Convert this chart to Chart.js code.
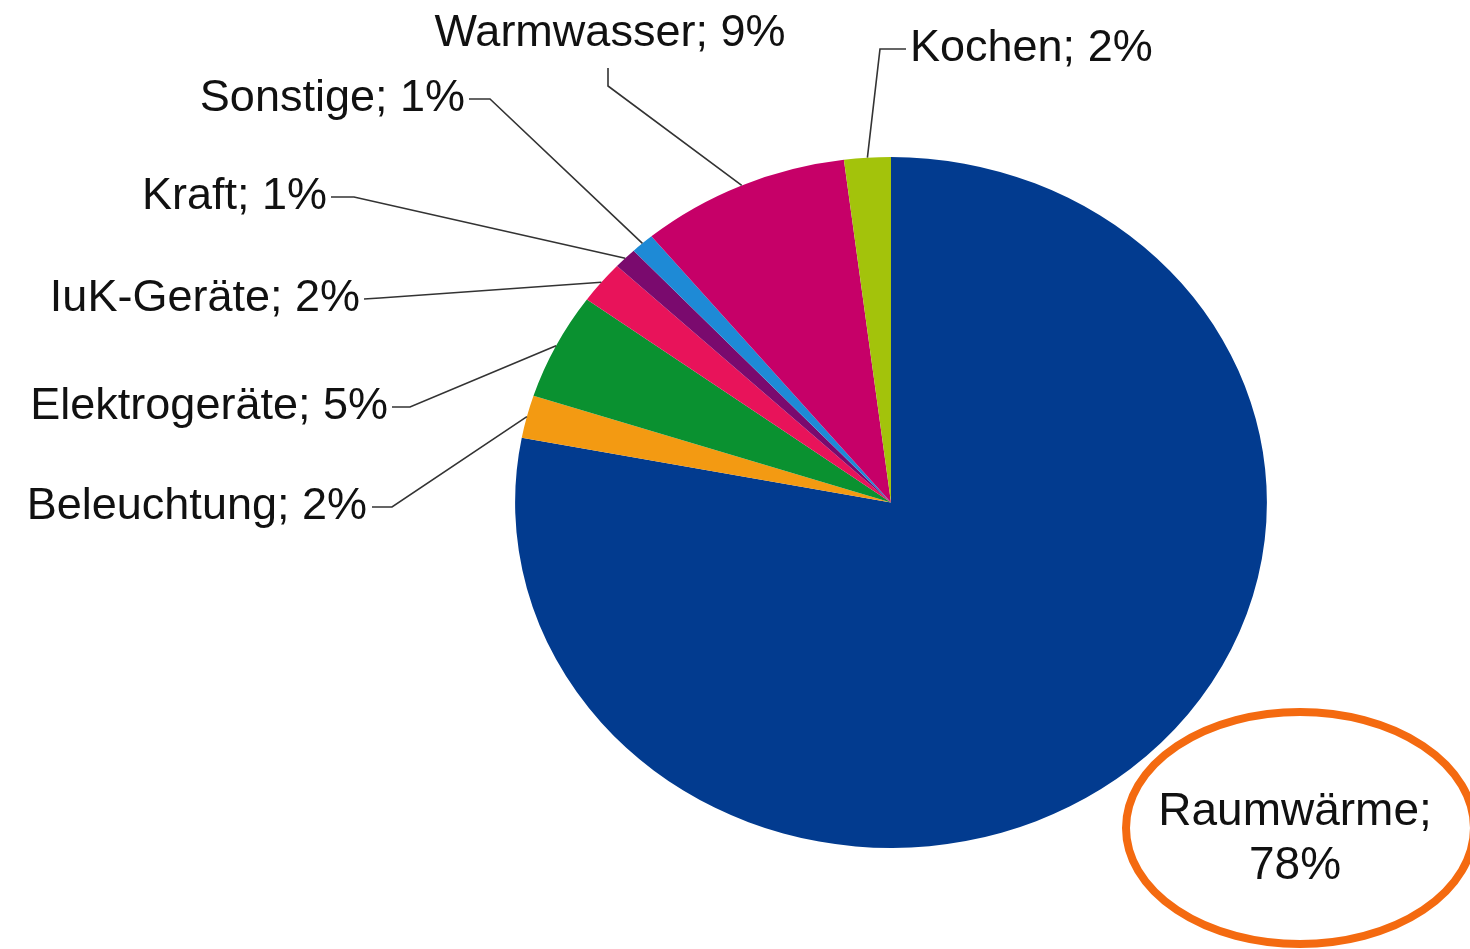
<!DOCTYPE html>
<html>
<head>
<meta charset="utf-8">
<script src="https://cdn.jsdelivr.net/npm/chart.js@4.4.0/dist/chart.umd.min.js"></script>
<style>
  html, body { margin: 0; padding: 0; background: #fff; }
  #wrap { width: 1470px; height: 949px; position: relative; }
</style>
</head>
<body>
<div id="wrap"><canvas id="pie"></canvas></div>
<script>
// data, clockwise from 12 o'clock
const categories = ['Raumwärme', 'Beleuchtung', 'Elektrogeräte', 'IuK-Geräte', 'Kraft', 'Sonstige', 'Warmwasser', 'Kochen'];
const shares = [78, 2, 5, 2, 1, 1, 9, 2];
const sliceColors = ['#023b8f', '#f39a12', '#0a9130', '#e8135a', '#7a0a6e', '#1e8ad6', '#c60068', '#a3c30b'];

// the original pie is a bit wider than tall
const stretchX = 1.088;

// where each label sits: text anchor + bend of the leader line
const labelLayout = [
  null,                                                            // Raumwärme: drawn in the ring
  { x: 367, y: 507, align: 'right', bend: [[372, 507], [392, 507]] },
  { x: 388, y: 407, align: 'right', bend: [[392, 407], [410, 407]] },
  { x: 360, y: 299, align: 'right', bend: [[364, 299], [380, 298]] },
  { x: 327, y: 197, align: 'right', bend: [[331, 197], [354, 197]] },
  { x: 465, y: 99,  align: 'right', bend: [[469, 99], [490, 99]] },
  { x: 610, y: 34,  align: 'center', bend: [[608, 68], [608, 86]] },
  { x: 910, y: 49,  align: 'left', bend: [[906, 49], [880, 49]] },
];

const stretchPlugin = {
  id: 'stretch',
  beforeDatasetsDraw(chart) {
    const arc = chart.getDatasetMeta(0).data[0];
    const ctx = chart.ctx;
    ctx.save();
    ctx.translate(arc.x, arc.y);
    ctx.scale(stretchX, 1);
    ctx.translate(-arc.x, -arc.y);
  },
  afterDatasetsDraw(chart) {
    chart.ctx.restore();
  }
};

const labelPlugin = {
  id: 'sliceLabels',
  afterDraw(chart) {
    const ctx = chart.ctx;
    const meta = chart.getDatasetMeta(0);
    ctx.save();
    ctx.font = '45px "Liberation Sans", Arial, sans-serif';
    ctx.fillStyle = '#111';
    ctx.textBaseline = 'middle';
    ctx.strokeStyle = '#333';
    ctx.lineWidth = 1.6;
    meta.data.forEach((arc, i) => {
      const lay = labelLayout[i];
      if (!lay) return;
      const mid = (arc.startAngle + arc.endAngle) / 2;
      const px = arc.x + Math.cos(mid) * arc.outerRadius * stretchX;
      const py = arc.y + Math.sin(mid) * arc.outerRadius;
      ctx.beginPath();
      ctx.moveTo(lay.bend[0][0], lay.bend[0][1]);
      ctx.lineTo(lay.bend[1][0], lay.bend[1][1]);
      ctx.lineTo(px, py);
      ctx.stroke();
      ctx.textAlign = lay.align;
      ctx.fillText(categories[i] + '; ' + shares[i] + '%', lay.x, lay.y);
    });

    // big slice label with the orange ring round it
    ctx.textAlign = 'center';
    ctx.font = '46px "Liberation Sans", Arial, sans-serif';
    ctx.fillText(categories[0] + ';', 1295, 812);
    ctx.fillText(shares[0] + '%', 1295, 866);
    ctx.beginPath();
    ctx.ellipse(1300, 828, 174, 116, 0, 0, Math.PI * 2);
    ctx.strokeStyle = '#f46a10';
    ctx.lineWidth = 8;
    ctx.stroke();
    ctx.restore();
  }
};

new Chart(document.getElementById('pie'), {
  type: 'pie',
  data: {
    labels: categories,
    datasets: [{
      data: shares,
      backgroundColor: sliceColors,
      borderWidth: 0,
    }]
  },
  options: {
    responsive: true,
    maintainAspectRatio: false,
    animation: false,
    layout: { padding: { top: 157, bottom: 101, left: 545, right: 233 } },
    plugins: {
      legend: { display: false },
      tooltip: { enabled: false },
    }
  },
  plugins: [stretchPlugin, labelPlugin]
});
</script>
</body>
</html>
